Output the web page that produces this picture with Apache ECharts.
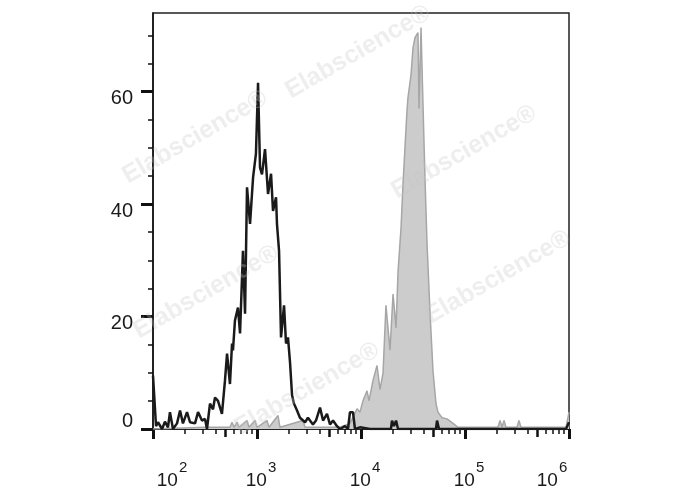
<!DOCTYPE html>
<html>
<head>
<meta charset="utf-8">
<script src="https://cdn.jsdelivr.net/npm/echarts@6/dist/echarts.min.js"></script>
<style>html,body{margin:0;padding:0;background:#fff}#c{width:688px;height:490px}</style>
</head>
<body>
<div id="c"></div>
<script>
// x positions are log10 of fluorescence intensity
var blackLog = [2.000,2.029,2.048,2.087,2.115,2.144,2.163,2.192,2.231,2.260,2.288,2.327,2.356,2.375,2.404,2.433,2.471,2.500,2.519,2.548,2.577,2.596,2.625,2.663,2.692,2.712,2.740,2.760,2.769,2.788,2.817,2.837,2.865,2.885,2.904,2.933,2.962,2.990,3.010,3.029,3.048,3.077,3.106,3.135,3.154,3.183,3.192,3.212,3.231,3.260,3.279,3.298,3.317,3.337,3.356,3.385,3.413,3.462,3.490,3.538,3.567,3.606,3.635,3.673,3.702,3.731,3.769,3.798,3.846,3.875,3.894,3.923,3.942,3.990,4.087,4.288,4.298,4.317,4.337,4.356,4.721,4.731,4.750,5.971,6.000];
var blackCount = [9.5,0.5,1.2,0,1.3,0.3,3,0,1,3.3,1,3,1.2,1.5,1,3,1.5,1.8,0,4.5,3.5,5.6,5,2.7,8.6,13.4,8,15.2,14,19.3,21.6,17,31.7,20.5,43,36.5,44.7,49,61.6,46.5,45.3,49.8,41.8,45.4,38.8,41.2,36.5,31.7,16.3,22,15.2,16.3,12,6,4.5,3.3,2,1.2,2,0.8,1.5,3.8,1.5,2.7,0.8,1.5,0.5,0,0.5,0,3,3,0,0.3,0,0,1.5,0.5,1.5,0,0,1.5,0,0,1.2];

var grayLog = [2.000,2.500,2.740,2.760,2.779,2.808,2.827,2.904,2.923,2.981,3.000,3.096,3.115,3.202,3.221,3.442,3.462,3.798,3.894,3.962,3.990,4.019,4.058,4.077,4.115,4.154,4.183,4.212,4.240,4.279,4.308,4.337,4.356,4.385,4.404,4.442,4.452,4.481,4.500,4.519,4.548,4.558,4.577,4.596,4.615,4.635,4.663,4.692,4.721,4.740,4.779,4.827,4.885,4.933,5.317,5.337,5.356,5.375,5.394,5.500,5.519,5.538,5.971,6.000];
var grayCount = [0,0.3,0.3,1.2,0.3,1.2,0.3,1.5,0.3,1.5,0.3,1.5,0.3,2.4,0.3,1.5,0.3,0.3,1,3.6,3,5,6.8,5,8.6,11.3,7,10,22,14,24,18,28,35.8,43.6,56.6,59,63,67.8,69.6,70.5,57,71.4,57.8,44.7,32.9,21,10.4,4.5,3,2,1.8,1,0.3,0.3,1.5,0.3,1.5,0.3,0.3,1.5,0.3,0.3,3];

var xDecades = [2,3,4,5,6];
var xMidMult = [5];
var xMinorMult = [2,3,4,6,7,8,9];
var yTicks = [0,20,40,60];
var yMinorTicks = [5,10,15,25,30,35,45,50,55,65,70];
var watermark = 'Elabscience®';
var watermarkSpots = [[195,137],[358,52],[464,152],[206,292],[498,277],[307,389]];

function pairs(xs, ys){ var out=[]; for(var i=0;i<xs.length;i++) out.push([xs[i], ys[i]]); return out; }
var midTicks=[], minorTicks=[];
for (var d=0; d<xDecades.length-1; d++){
  xMidMult.forEach(function(m){ midTicks.push(xDecades[d]+Math.log10(m)); });
  xMinorMult.forEach(function(m){ minorTicks.push(xDecades[d]+Math.log10(m)); });
}
var FF = 'Arial, "Liberation Sans", Helvetica, sans-serif';
var TXT = '#1a1a1a';

function xAxisBase(){
  return {type:'value', min:2, max:6, gridIndex:0, position:'bottom', offset:0, splitLine:{show:false},
    axisLine:{show:false, onZero:false}, axisLabel:{show:false}, axisTick:{show:false}};
}
var ax0 = xAxisBase();
ax0.axisLine = {show:true, onZero:false, lineStyle:{color:'#111', width:1.5}};
ax0.axisTick = {show:true, customValues:xDecades, length:10, lineStyle:{color:'#111', width:3}};
ax0.axisLabel = {show:true, customValues:xDecades, margin:41, color:TXT,
  formatter:function(v){
    var n = Math.round(v);
    if (n === xDecades[0]) return '{bL|10}{s|' + n + '}';
    if (n === xDecades[xDecades.length-1]) return '{b|10}{sR|' + n + '}';
    return '{b|10}{s|' + n + '}';
  },
  rich:{
    b:{fontSize:19, fontFamily:FF, color:TXT, lineHeight:22, verticalAlign:'middle', padding:[0,0,0,8]},
    bL:{fontSize:19, fontFamily:FF, color:TXT, lineHeight:22, verticalAlign:'middle', padding:[0,0,0,38]},
    s:{fontSize:15, fontFamily:FF, color:TXT, lineHeight:16, verticalAlign:'middle', padding:[0,0,26,1]},
    sR:{fontSize:15, fontFamily:FF, color:TXT, lineHeight:16, verticalAlign:'middle', padding:[0,42,26,1]}
  }};
var ax1 = xAxisBase();
ax1.axisTick = {show:true, customValues:midTicks, length:8, lineStyle:{color:'#111', width:2.5}};
var ax2 = xAxisBase();
ax2.axisTick = {show:true, customValues:minorTicks, length:5, lineStyle:{color:'#111', width:1.5}};

var option = {
  animation:false,
  backgroundColor:'#fff',
  grid:{left:153, right:119, top:13, bottom:61, outerBoundsMode:'none', containLabel:false,
        show:true, borderColor:'#222', borderWidth:1.5, backgroundColor:'transparent'},
  xAxis:[ax0, ax1, ax2],
  yAxis:[
    {type:'value', min:0, max:74, position:'left', offset:0, splitLine:{show:false},
     axisLine:{show:true, onZero:false, lineStyle:{color:'#111', width:1.5}},
     axisTick:{show:true, customValues:yTicks, length:12, lineStyle:{color:'#111', width:3}},
     axisLabel:{show:true, customValues:yTicks, margin:20, color:TXT,
       formatter:function(v){ return v === 0 ? '{z|0}' : '{n|' + v + '}'; },
       rich:{
         n:{fontSize:20, fontFamily:FF, color:TXT, padding:[14,0,0,0]},
         z:{fontSize:20, fontFamily:FF, color:TXT, padding:[0,0,15,0]}
       }}},
    {type:'value', min:0, max:74, splitLine:{show:false}, position:'left', offset:0,
     axisLine:{show:false, onZero:false}, axisLabel:{show:false},
     axisTick:{show:true, customValues:yMinorTicks, length:5, lineStyle:{color:'#111', width:1.5}}}
  ],
  series:[
    {type:'line', name:'stained', xAxisIndex:0, yAxisIndex:0, data:pairs(grayLog, grayCount),
     symbol:'none', lineStyle:{color:'#a6a6a6', width:1.5}, areaStyle:{color:'#cccccc', opacity:1}, z:2},
    {type:'line', name:'control', xAxisIndex:0, yAxisIndex:0, data:pairs(blackLog, blackCount),
     symbol:'none', lineStyle:{color:'#1a1a1a', width:2.5}, z:3}
  ],
  graphic: watermarkSpots.map(function(p){
    return {type:'text', x:p[0], y:p[1], rotation:Math.PI/6, z:100, silent:true,
      style:{text:watermark, font:'bold 25px ' + FF, fill:'rgba(200,200,200,0.3)', align:'center', verticalAlign:'middle'}};
  })
};
var chart = echarts.init(document.getElementById('c'), null, {renderer:'canvas'});
chart.setOption(option);
</script>
</body>
</html>
